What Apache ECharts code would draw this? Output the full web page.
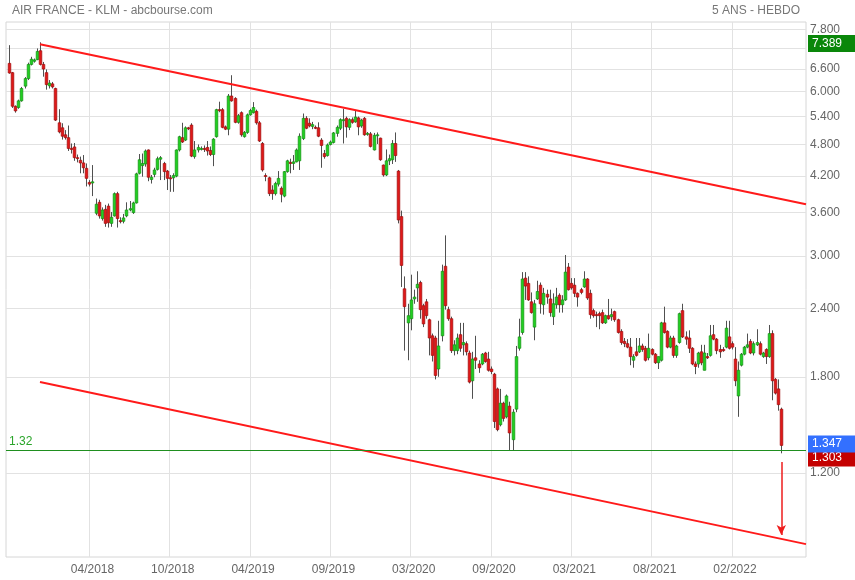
<!DOCTYPE html>
<html>
<head>
<meta charset="utf-8">
<script src="https://cdn.jsdelivr.net/npm/echarts@6/dist/echarts.min.js"></script>
<style>
html,body{margin:0;padding:0;background:#fff;}
#chart{width:855px;height:580px;}
</style>
</head>
<body>
<div id="chart"></div>
<script>
// ---------- data ----------
const slotCount = 260;          // weekly slots on the x axis
const firstSlot = 1;            // slot of the first candle
// weekly candles: [open, high, low, close]
const candles = [
[6.76,7.30,6.47,6.49],[6.50,6.52,5.60,5.64],[5.64,5.66,5.49,5.53],[5.61,5.80,5.58,5.77],[5.77,6.12,5.75,6.08],
[6.14,6.38,6.08,6.34],[6.34,6.78,6.30,6.73],[6.73,6.95,6.70,6.88],[6.82,6.90,6.78,6.86],[6.87,7.20,6.85,7.11],
[7.13,7.389,6.70,6.73],[6.73,6.80,6.39,6.60],[6.50,6.59,6.05,6.18],[6.15,6.30,6.08,6.22],[6.20,6.25,6.08,6.12],
[6.08,6.10,5.30,5.32],[5.26,5.57,5.03,5.06],[5.15,5.25,4.90,4.97],[5.00,5.10,4.90,4.94],[4.94,5.20,4.67,4.72],
[4.72,4.82,4.62,4.70],[4.75,4.83,4.48,4.54],[4.54,4.60,4.45,4.53],[4.49,4.56,4.25,4.44],[4.44,4.59,4.25,4.35],
[4.34,4.43,4.02,4.16],[4.09,4.13,4.02,4.06],[4.08,4.40,3.86,4.10],[3.59,3.82,3.56,3.73],[3.76,3.80,3.51,3.55],
[3.51,3.68,3.48,3.64],[3.65,3.72,3.39,3.44],[3.70,3.74,3.38,3.45],[3.44,3.61,3.39,3.53],[3.55,3.92,3.54,3.90],
[3.90,3.93,3.38,3.51],[3.48,3.53,3.44,3.47],[3.47,3.58,3.44,3.52],[3.55,3.76,3.53,3.64],[3.64,3.78,3.62,3.66],
[3.60,3.77,3.58,3.75],[3.75,4.26,3.74,4.24],[4.25,4.61,4.23,4.50],[4.39,4.62,4.19,4.43],[4.42,4.70,4.37,4.67],
[4.69,4.70,4.11,4.18],[4.14,4.22,4.07,4.18],[4.23,4.35,4.18,4.31],[4.32,4.56,4.30,4.52],[4.51,4.57,4.13,4.54],
[4.43,4.46,4.13,4.28],[4.29,4.31,3.96,4.16],[4.17,4.22,3.93,4.16],[4.17,4.25,3.93,4.21],[4.20,4.70,4.18,4.69],
[4.69,4.98,4.66,4.96],[4.94,5.26,4.83,4.85],[4.89,5.18,4.87,5.15],[5.15,5.17,5.10,5.13],[5.21,5.25,4.55,4.57],
[4.56,4.87,4.52,4.69],[4.69,4.80,4.64,4.74],[4.72,4.76,4.68,4.72],[4.72,4.78,4.65,4.70],[4.74,4.87,4.58,4.67],
[4.68,4.76,4.57,4.60],[4.60,4.93,4.38,4.91],[4.96,5.58,4.94,5.56],[5.56,5.75,5.50,5.55],[5.56,5.60,5.14,5.16],
[5.17,5.20,5.10,5.12],[5.12,5.94,4.99,5.89],[5.89,6.43,5.75,5.77],[5.83,5.86,5.25,5.27],[5.27,5.46,5.24,5.42],
[5.49,5.52,4.96,5.00],[4.96,5.08,4.94,5.05],[5.05,5.47,5.02,5.44],[5.44,5.58,5.42,5.54],[5.49,5.74,5.47,5.61],
[5.52,5.56,5.22,5.26],[5.26,5.30,4.85,4.87],[4.82,4.85,4.28,4.31],[4.21,4.25,4.11,4.20],[4.17,4.19,3.86,3.90],
[3.96,4.04,3.80,3.90],[3.90,4.10,3.87,4.07],[4.06,4.29,4.02,4.16],[3.99,4.02,3.76,3.89],[3.86,4.29,3.84,4.28],
[4.28,4.50,4.26,4.48],[4.45,4.52,4.25,4.43],[4.43,4.59,4.31,4.46],[4.46,4.72,4.45,4.69],[4.48,5.03,4.31,4.97],
[4.92,5.47,4.89,5.36],[5.36,5.41,5.12,5.14],[5.25,5.36,5.16,5.19],[5.18,5.28,5.12,5.22],[5.16,5.20,5.12,5.15],
[5.15,5.27,4.95,4.97],[4.89,4.93,4.35,4.78],[4.62,4.69,4.52,4.56],[4.58,4.82,4.56,4.79],[4.80,4.88,4.78,4.85],
[4.84,5.06,4.82,5.04],[5.03,5.20,4.96,5.16],[5.14,5.36,5.10,5.33],[5.31,5.58,4.82,5.33],[5.36,5.40,4.94,5.17],
[5.16,5.36,5.10,5.33],[5.33,5.38,5.24,5.27],[5.28,5.54,5.26,5.39],[5.37,5.40,4.99,5.17],[5.19,5.35,5.15,5.32],
[5.36,5.39,4.98,5.00],[5.02,5.06,4.98,5.03],[5.02,5.06,4.74,4.76],[4.69,5.04,4.68,4.99],[4.99,5.05,4.81,5.00],
[4.93,4.94,4.48,4.50],[4.40,4.41,4.19,4.22],[4.22,4.70,4.20,4.48],[4.48,4.60,4.40,4.52],[4.50,4.89,4.42,4.82],
[4.82,5.05,4.46,4.58],[4.29,4.31,3.44,3.49],[3.54,3.63,2.63,2.88],[2.61,2.75,2.01,2.42],[2.26,2.45,1.93,2.33],
[2.30,2.77,2.19,2.49],[2.50,2.60,2.45,2.52],[2.62,2.81,2.47,2.66],[2.68,2.70,2.30,2.39],[2.43,2.45,2.22,2.25],
[2.47,2.50,2.30,2.33],[2.29,2.30,1.97,2.12],[2.14,2.16,1.92,1.97],[2.12,2.14,1.78,1.81],[1.86,2.28,1.80,2.05],
[2.14,2.89,2.09,2.81],[2.87,3.27,2.39,2.43],[2.39,2.42,2.28,2.30],[2.30,2.32,1.99,2.01],[2.01,2.10,1.97,2.06],
[2.01,2.16,1.98,2.12],[2.15,2.26,2.00,2.03],[2.06,2.26,1.97,2.08],[2.07,2.09,1.97,2.00],[1.99,2.01,1.75,1.76],
[1.77,2.00,1.64,1.94],[1.95,2.14,1.86,1.93],[1.90,1.93,1.83,1.87],[1.90,1.99,1.89,1.98],[1.99,2.00,1.91,1.92],
[1.94,2.00,1.84,1.85],[1.86,1.88,1.82,1.84],[1.82,1.83,1.45,1.49],[1.71,1.72,1.43,1.44],[1.47,1.71,1.46,1.61],
[1.61,1.62,1.49,1.51],[1.52,1.67,1.51,1.66],[1.59,1.62,1.32,1.42],[1.38,1.57,1.32,1.55],[1.57,2.05,1.55,1.96],
[2.03,2.30,2.01,2.13],[2.17,2.80,2.15,2.72],[2.73,2.80,2.49,2.64],[2.67,2.75,2.48,2.49],[2.47,2.57,2.35,2.36],
[2.22,2.49,2.10,2.45],[2.50,2.70,2.49,2.58],[2.65,2.68,2.35,2.45],[2.44,2.62,2.34,2.56],[2.55,2.60,2.45,2.52],
[2.50,2.60,2.32,2.36],[2.32,2.56,2.24,2.45],[2.44,2.62,2.40,2.52],[2.54,2.56,2.36,2.44],[2.44,2.54,2.36,2.49],
[2.49,3.01,2.48,2.80],[2.86,2.91,2.59,2.60],[2.67,2.73,2.60,2.62],[2.65,2.73,2.52,2.56],[2.56,2.57,2.42,2.52],
[2.60,2.62,2.55,2.57],[2.63,2.81,2.62,2.72],[2.72,2.73,2.49,2.51],[2.56,2.60,2.30,2.34],[2.38,2.40,2.31,2.33],
[2.34,2.37,2.22,2.33],[2.35,2.37,2.20,2.33],[2.36,2.39,2.25,2.26],[2.26,2.34,2.25,2.33],[2.33,2.50,2.29,2.30],
[2.32,2.40,2.28,2.34],[2.37,2.38,2.27,2.29],[2.29,2.30,2.16,2.17],[2.18,2.20,2.06,2.08],[2.09,2.12,2.04,2.07],
[2.07,2.11,2.03,2.04],[2.04,2.12,1.89,1.96],[1.93,1.98,1.87,1.96],[2.00,2.12,1.96,1.97],[2.00,2.12,1.99,2.05],
[2.05,2.07,2.00,2.02],[2.03,2.05,1.92,1.93],[1.95,2.16,1.93,2.03],[2.02,2.03,1.97,1.98],[1.98,1.99,1.90,1.91],
[1.91,1.96,1.86,1.96],[1.93,2.27,1.92,2.26],[2.26,2.42,2.16,2.17],[2.18,2.19,2.03,2.04],[2.04,2.14,2.03,2.12],
[2.12,2.14,1.95,1.97],[1.97,2.06,1.95,2.05],[2.08,2.36,2.07,2.35],[2.38,2.45,2.12,2.13],[2.13,2.18,2.06,2.11],
[2.12,2.19,1.99,2.03],[2.03,2.04,1.89,1.90],[1.90,1.92,1.82,1.88],[1.90,2.00,1.87,1.99],[2.00,2.06,1.89,1.91],
[1.85,2.06,1.85,1.99],[1.96,1.99,1.94,1.95],[1.97,2.24,1.96,2.14],[2.15,2.24,2.10,2.11],[2.11,2.12,1.98,2.01],
[2.02,2.06,1.95,2.00],[2.02,2.04,2.00,2.01],[2.04,2.28,2.03,2.21],[2.13,2.28,2.02,2.03],[2.07,2.09,2.02,2.04],
[1.94,2.04,1.73,1.77],[1.66,1.92,1.52,1.85],[1.89,1.99,1.88,1.98],[1.98,2.05,1.97,2.04],[2.04,2.16,2.03,2.06],
[2.09,2.11,1.98,1.99],[1.99,2.09,1.97,2.07],[2.06,2.20,2.05,2.08],[2.07,2.09,1.97,1.98],[1.96,2.00,1.95,1.99],
[2.02,2.03,1.90,1.96],[1.96,2.24,1.95,2.16],[2.16,2.19,1.63,1.77],[1.78,1.79,1.67,1.68],[1.71,1.78,1.56,1.60],
[1.57,1.58,1.303,1.347]
];
const yTickValues  = [1.2,1.8,2.4,3.0,3.6,4.2,4.8,5.4,6.0,6.6,7.2,7.8];
const yLabelValues = [1.2,1.8,2.4,3.0,3.6,4.2,4.8,5.4,6.0,6.6,7.8];
const xTickLabels  = ['04/2018','10/2018','04/2019','09/2019','03/2020','09/2020','03/2021','08/2021','02/2022'];
const xLabelSlots  = [28,54,80,106,132,158,184,210,236];
const xGridSlots   = [27,53,79,105,131,157,183,209,235];
const upperTrend   = [[11,7.33],[259,3.73]];
const lowerTrend   = [[11,1.76],[259,0.888]];
const arrowLine    = [[251,1.256],[251,0.923]];
const supportLevel = 1.32;
const lastMax = 7.389, lastPrice = 1.347, lastLow = 1.303;
const yMin = 0.841, yMax = 8.05;

// ---------- build ----------
const L = v => Math.log10(v);
const categories = [];
for (let i = 0; i < slotCount; i++) categories.push(String(i));
const seriesData = candles.map((c, k) => [firstSlot + k, L(c[0]), L(c[3]), L(c[2]), L(c[1])]);
const labelMap = {};
xLabelSlots.forEach((s, k) => labelMap[s] = xTickLabels[k]);

const FONT = 'Liberation Sans, Arial, sans-serif';
const chart = echarts.init(document.getElementById('chart'), null, {renderer: 'canvas'});

function boxLabel(val, text, bg, dy) {
  return {
    yAxis: L(val),
    lineStyle: {color: 'rgba(0,0,0,0)', width: 0},
    label: {
      show: true, position: 'end', formatter: text, color: '#fff',
      backgroundColor: bg, padding: [2, 4, 1, 4], width: 40, lineHeight: 14,
      fontSize: 12, fontFamily: FONT, distance: 2, offset: [0, dy || 0], opacity: 1
    }
  };
}

const option = {
  animation: false,
  backgroundColor: '#fff',
  title: [
    {text: 'AIR FRANCE - KLM - abcbourse.com', left: 7, top: 0,
     textStyle: {fontSize: 12, fontWeight: 'normal', color: '#777', fontFamily: FONT}},
    {text: '5 ANS - HEBDO', right: 50, top: 0,
     textStyle: {fontSize: 12, fontWeight: 'normal', color: '#777', fontFamily: FONT}}
  ],
  grid: {left: 6, right: 49, top: 22, bottom: 23, show: true, borderColor: '#d6d6d6', borderWidth: 1},
  xAxis: {
    type: 'category', data: categories, boundaryGap: false,
    axisLine: {show: false}, axisTick: {show: false},
    axisLabel: {
      interval: (i) => labelMap[i] !== undefined,
      formatter: (v, i) => labelMap[i] || '',
      color: '#666', fontSize: 12, fontFamily: FONT, margin: 7
    },
    splitLine: {show: true, interval: (i) => xGridSlots.indexOf(i) >= 0,
                lineStyle: {color: '#e2e2e2', width: 1}}
  },
  yAxis: {
    type: 'value', position: 'right', min: L(yMin), max: L(yMax), scale: true,
    axisLine: {show: false},
    axisTick: {show: false, customValues: yTickValues.map(L)},
    axisLabel: {
      customValues: yLabelValues.map(L),
      formatter: v => Math.pow(10, v).toFixed(3),
      color: '#666', fontSize: 12, fontFamily: FONT, margin: 4
    },
    splitLine: {show: true, lineStyle: {color: '#e2e2e2', width: 1}}
  },
  series: [
    {
      type: 'custom', name: 'AF-KLM', data: seriesData, clip: true,
      encode: {x: 0, y: [1, 2, 3, 4]},
      renderItem: function (params, api) {
        const x = api.value(0), o = api.value(1), c = api.value(2), lo = api.value(3), hi = api.value(4);
        const pO = api.coord([x, o]), pC = api.coord([x, c]), pL = api.coord([x, lo]), pH = api.coord([x, hi]);
        const up = c >= o;
        const top = Math.min(pO[1], pC[1]), bot = Math.max(pO[1], pC[1]);
        const w = 2.6;
        const cx = Math.round(pO[0]) + 0.5;
        return {
          type: 'group',
          children: [
            {type: 'line', shape: {x1: cx, y1: pH[1], x2: cx, y2: pL[1]},
             style: {stroke: '#505050', lineWidth: 1}},
            {type: 'rect', shape: {x: cx - w / 2, y: top, width: w, height: Math.max(bot - top, 1)},
             style: {fill: up ? '#20d020' : '#e01818', stroke: up ? '#138f13' : '#a00c0c', lineWidth: 0.7}}
          ]
        };
      }
    },
    {
      type: 'line', data: [], silent: true,
      markLine: {
        silent: true, symbol: ['none', 'none'], animation: false,
        label: {show: false},
        data: [
          [{coord: [String(upperTrend[0][0]), L(upperTrend[0][1])], lineStyle: {color: '#ff1a1a', width: 2, type: 'solid'}},
           {coord: [String(upperTrend[1][0]), L(upperTrend[1][1])]}],
          [{coord: [String(lowerTrend[0][0]), L(lowerTrend[0][1])], lineStyle: {color: '#ff1a1a', width: 2, type: 'solid'}},
           {coord: [String(lowerTrend[1][0]), L(lowerTrend[1][1])]}],
          [{coord: [String(arrowLine[0][0]), L(arrowLine[0][1])], symbol: 'none', lineStyle: {color: '#ee1c1c', width: 1.5, type: 'solid'}},
           {coord: [String(arrowLine[1][0]), L(arrowLine[1][1])], symbol: 'arrow', symbolSize: [7, 10]}],
          {yAxis: L(supportLevel), lineStyle: {color: '#1f8f1f', width: 1, type: 'solid'},
           label: {show: true, position: 'insideStartTop', formatter: '1.32', color: '#2aa52a',
                   fontSize: 12, fontFamily: FONT, distance: 3}},
          boxLabel(lastMax, '7.389', '#0a870a', 2),
          boxLabel(lastLow, '1.303', '#c40000', 2),
          boxLabel(lastPrice, '1.347', '#3370ff', -1)
        ]
      }
    }
  ]
};
chart.setOption(option);
</script>
</body>
</html>
